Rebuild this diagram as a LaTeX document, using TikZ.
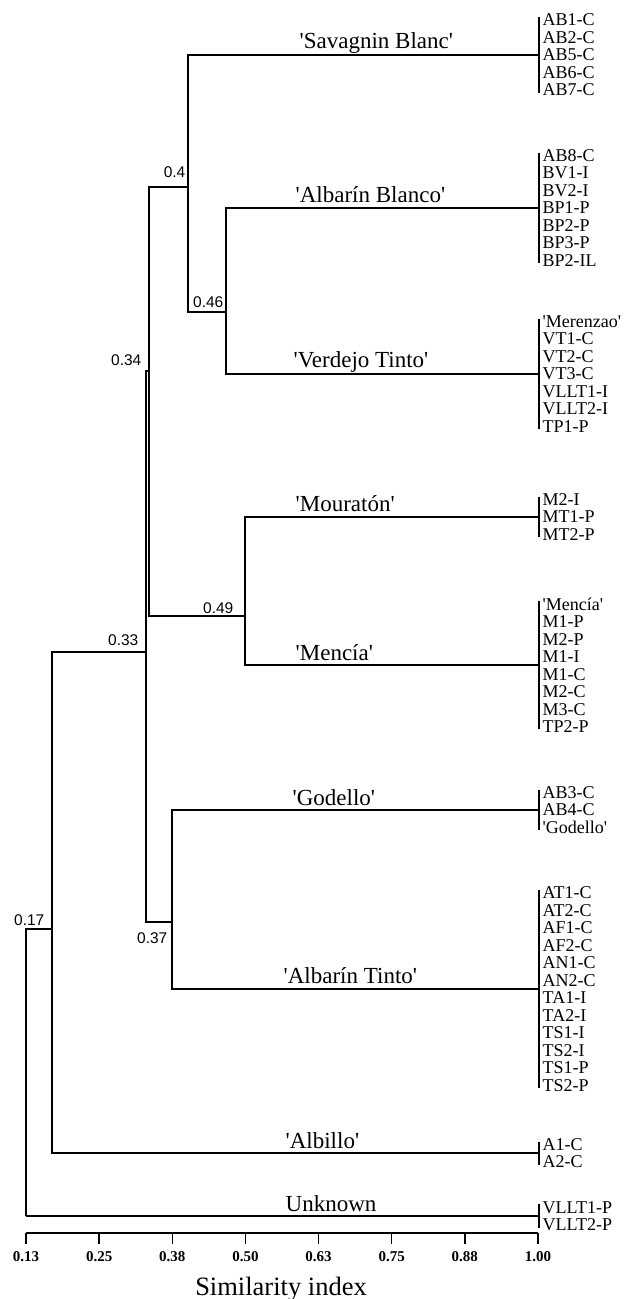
\documentclass[tikz,border=0pt]{standalone}
\usepackage{fontspec}
\newfontfamily\labserif{Liberation Serif}
\newfontfamily\labsans{Liberation Sans}

\begin{document}
\begin{tikzpicture}[x=1pt,y=-1pt,line width=1.4pt,
  leaves/.style={anchor=west,align=left,inner xsep=3pt,inner ysep=0pt,
    font=\labserif\fontsize{18}{17.5}\selectfont},
  clab/.style={anchor=base west,inner sep=0pt,font=\labserif\fontsize{23}{23}\selectfont},
  nlab/.style={anchor=east,inner sep=0pt,font=\labsans\fontsize{15.5}{16}\selectfont},
  tlab/.style={inner sep=0pt,font=\labserif\bfseries\fontsize{15}{15}\selectfont}]
  \useasboundingbox (0,0) rectangle (626,1299);
  % leaf groups
  \node[leaves] (gSav) at (539,55) {AB1-C\\AB2-C\\AB5-C\\AB6-C\\AB7-C};
  \node[leaves] (gAlbB) at (539,208) {AB8-C\\BV1-I\\BV2-I\\BP1-P\\BP2-P\\BP3-P\\BP2-IL};
  \node[leaves] (gVerT) at (539,374) {'Merenzao'\\VT1-C\\VT2-C\\VT3-C\\VLLT1-I\\VLLT2-I\\TP1-P};
  \node[leaves] (gMou) at (539,517) {M2-I\\MT1-P\\MT2-P};
  \node[leaves] (gMen) at (539,665) {'Mencía'\\M1-P\\M2-P\\M1-I\\M1-C\\M2-C\\M3-C\\TP2-P};
  \node[leaves] (gGod) at (539,810) {AB3-C\\AB4-C\\'Godello'};
  \node[leaves] (gAlbT) at (539,989) {AT1-C\\AT2-C\\AF1-C\\AF2-C\\AN1-C\\AN2-C\\TA1-I\\TA2-I\\TS1-I\\TS2-I\\TS1-P\\TS2-P};
  \node[leaves] (gAlbi) at (539,1153) {A1-C\\A2-C};
  \node[leaves] (gUnk) at (539,1216) {VLLT1-P\\VLLT2-P};
  \foreach \g in {gSav,gAlbB,gVerT,gMou,gMen,gGod,gAlbT,gAlbi,gUnk}
    \draw ([yshift=-4pt]\g.north west) -- ([yshift=4pt]\g.south west);
  % junctions
  \coordinate (root) at (26,1216);
  \coordinate (n017) at (52,929);
  \coordinate (n033) at (146,652);
  \coordinate (n034) at (149,371);
  \coordinate (n037) at (172,922);
  \coordinate (n04) at (188,187);
  \coordinate (n046) at (226,312);
  \coordinate (n049) at (245,616);
  \draw (root) |- (n017);
  \draw (root) -- (gUnk.west);
  \draw (n017) |- (n033);
  \draw (n017) |- (gAlbi.west);
  \draw (n033) |- (n034);
  \draw (n033) |- (n037);
  \draw (n034) |- (n04);
  \draw (n034) |- (n049);
  \draw (n04) |- (gSav.west);
  \draw (n04) |- (n046);
  \draw (n046) |- (gAlbB.west);
  \draw (n046) |- (gVerT.west);
  \draw (n049) |- (gMou.west);
  \draw (n049) |- (gMen.west);
  \draw (n037) |- (gGod.west);
  \draw (n037) |- (gAlbT.west);
  % similarity values
  \node[nlab] (l04) at (186,172) {0.4};
  \node[nlab] (l046) at (224,302) {0.46};
  \node[nlab] (l034) at (142,360) {0.34};
  \node[nlab] (l049) at (234,608) {0.49};
  \node[nlab] (l033) at (139,640) {0.33};
  \node[nlab] (l037) at (168,938) {0.37};
  \node[nlab] (l017) at (45,920) {0.17};
  % cultivar names
  \node[clab] (cSav) at (299,48) {'Savagnin Blanc'};
  \node[clab] (cAlbB) at (295,202) {'Albarín Blanco'};
  \node[clab] (cVerT) at (293,367) {'Verdejo Tinto'};
  \node[clab] (cMou) at (295,511) {'Mouratón'};
  \node[clab] (cMen) at (295,660) {'Mencía'};
  \node[clab] (cGod) at (292,805) {'Godello'};
  \node[clab] (cAlbT) at (283,983) {'Albarín Tinto'};
  \node[clab] (cAlbi) at (285,1148) {'Albillo'};
  \node[clab] (cUnk) at (285,1211) {Unknown};
  % scale
  \coordinate (ax0) at (26,1233);
  \coordinate (ax1) at (538,1233);
  \draw (ax0) -- (ax1);
  \foreach \t [count=\i from 0] in {0.13,0.25,0.38,0.50,0.63,0.75,0.88,1.00} {
    \draw ({26+\i*73.14},1233) -- ++(0,11);
    \node[tlab] (t\i) at ({26+\i*73.14},1257) {\t};
  }
  \node[anchor=base,inner sep=0pt,font=\labserif\fontsize{26.5}{27}\selectfont] (xlab) at (281,1295) {Similarity index};
\end{tikzpicture}
\end{document}
